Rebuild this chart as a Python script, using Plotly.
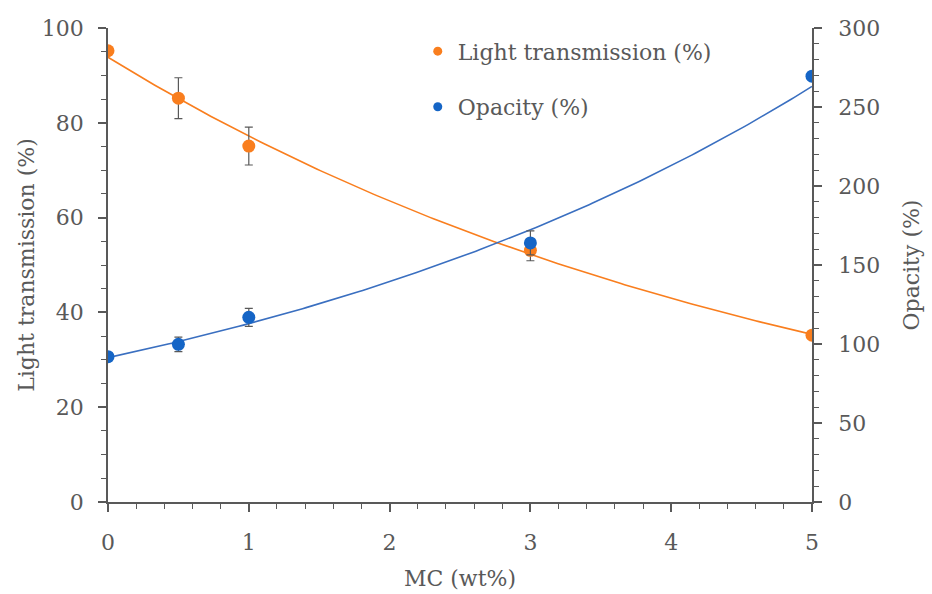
import numpy as np
import plotly.graph_objects as go

mc = [0, 0.5, 1, 3, 5]
light = [95.2, 85.2, 75.1, 53.1, 35.2]
light_err = [0, 4.3, 4.0, 2.2, 0]
opacity = [92.0, 99.8, 116.9, 164.0, 269.5]
opacity_err = [0, 4.6, 5.7, 7.6, 0]

x_ticks = [0, 1, 2, 3, 4, 5]
left_ticks = [0, 20, 40, 60, 80, 100]
right_ticks = [0, 50, 100, 150, 200, 250, 300]

ORANGE = "#F97E1E"
BLUE = "#1565C6"
LINE_BLUE = "#3A6FC0"
TXT = "#595959"
FONT = "DejaVu Serif"
FS = 22

# exponential trendlines fitted to the data (as in a spreadsheet trendline)
xs = np.linspace(0, 5, 200)
bl, al = np.polyfit(mc, np.log(light), 1)
bo, ao = np.polyfit(mc, np.log(opacity), 1)
light_fit = np.exp(al) * np.exp(bl * xs)
op_fit = np.exp(ao) * np.exp(bo * xs)

fig = go.Figure()
fig.add_trace(go.Scatter(x=xs, y=light_fit, mode="lines", line=dict(color=ORANGE, width=1.6),
                         showlegend=False, hoverinfo="skip"))
fig.add_trace(go.Scatter(x=xs, y=op_fit, mode="lines", line=dict(color=LINE_BLUE, width=1.6),
                         showlegend=False, hoverinfo="skip", yaxis="y2"))
fig.add_trace(go.Scatter(x=mc, y=light, mode="markers", showlegend=False,
                         marker=dict(color=ORANGE, size=13),
                         error_y=dict(type="data", array=light_err, color=TXT, thickness=1.2, width=4)))
fig.add_trace(go.Scatter(x=mc, y=opacity, mode="markers", showlegend=False, yaxis="y2",
                         marker=dict(color=BLUE, size=13),
                         error_y=dict(type="data", array=opacity_err, color=TXT, thickness=1.2, width=4)))
# legend entries
fig.add_trace(go.Scatter(x=[None], y=[None], mode="markers", name="Light transmission (%)",
                         marker=dict(color=ORANGE, size=9), legendgroup="a"))
fig.add_trace(go.Scatter(x=[None], y=[None], mode="markers", name="Opacity (%)",
                         marker=dict(color=BLUE, size=9), legendgroup="b"))

axis_common = dict(showline=True, linecolor=TXT, linewidth=1.5, showgrid=False, zeroline=False,
                   ticks="outside", ticklen=8, tickcolor=TXT, tickwidth=1.5, automargin=False,
                   tickfont=dict(family=FONT, size=FS, color=TXT))

fig.update_layout(
    width=932, height=594,
    margin=dict(l=108, r=120, t=28, b=92),
    paper_bgcolor="white", plot_bgcolor="white",
    font=dict(family=FONT, color=TXT, size=FS),
    xaxis=dict(range=[0, 5], tickvals=x_ticks, ticklabelstandoff=12,
               minor=dict(dtick=0.2, ticks="outside", ticklen=5, tickcolor=TXT, tickwidth=1.2),
               title=dict(text="MC (wt%)", font=dict(family=FONT, size=FS, color=TXT), standoff=16),
               **axis_common),
    yaxis=dict(range=[0, 100], tickvals=left_ticks, ticklabelstandoff=10,
               minor=dict(dtick=5, ticks="outside", ticklen=5, tickcolor=TXT, tickwidth=1.2),
               title=dict(text="Light transmission (%)", font=dict(family=FONT, size=FS, color=TXT), standoff=1),
               **axis_common),
    yaxis2=dict(range=[0, 300], tickvals=right_ticks, overlaying="y", side="right", ticklabelstandoff=12,
                minor=dict(dtick=10, ticks="outside", ticklen=5, tickcolor=TXT, tickwidth=1.2),
                title=dict(text="Opacity (%)", font=dict(family=FONT, size=FS, color=TXT), standoff=24),
                **axis_common),
    legend=dict(x=0.44, y=0.995, xanchor="left", yanchor="top", bgcolor="rgba(0,0,0,0)",
                font=dict(family=FONT, size=FS, color=TXT), tracegroupgap=24,
                itemwidth=30),
    showlegend=True,
)

fig.write_html("out.html")
